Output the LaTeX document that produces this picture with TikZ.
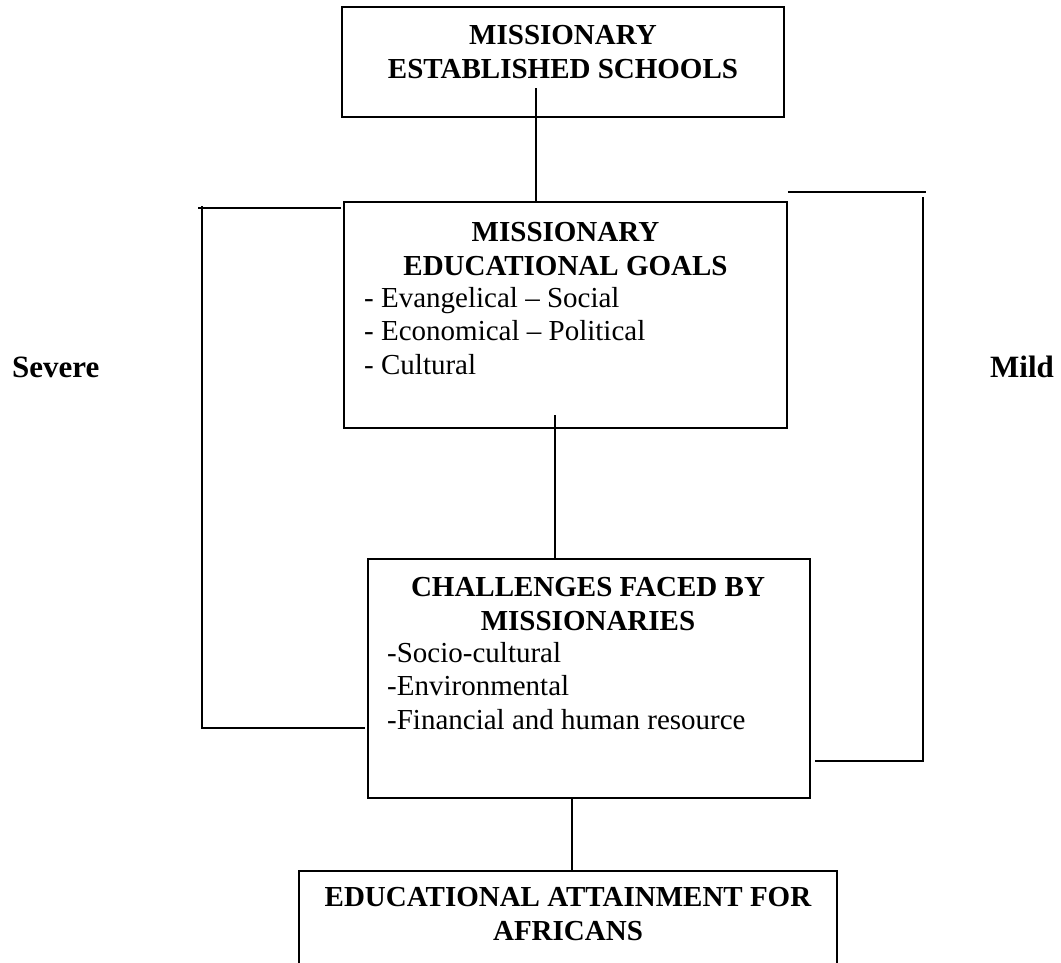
\documentclass[tikz,border=0pt]{standalone}
\usepackage{fontspec}
\setmainfont{Liberation Serif}
\usepackage{tikz}
\usetikzlibrary{positioning, calc}
\newcommand{\diagfont}{\fontsize{29}{33.6}\selectfont}

\begin{document}
\begin{tikzpicture}[x=1pt, y=-1pt,
    box/.style={draw=black, line width=1.8pt, inner sep=0pt},
    head/.style={font=\diagfont\bfseries, align=center, inner sep=0pt, anchor=north},
    items/.style={font=\diagfont, align=left, inner sep=0pt, anchor=north west},
    side/.style={font=\fontsize{31}{36}\selectfont\bfseries, inner sep=0pt, anchor=base west},
    link/.style={line width=1.8pt}]
    \useasboundingbox (0,0) rectangle (1061,962);
    % boxes
    \node[box, minimum width=442pt, minimum height=110pt] (est)    at (563, 62)    {};
    \node[box, minimum width=443pt, minimum height=226pt] (goals)  at (565.5, 315) {};
    \node[box, minimum width=442pt, minimum height=239pt] (chal)   at (589, 678.5) {};
    \node[box, minimum width=538pt, minimum height=140pt] (attain) at (568, 941)   {};
    % box texts
    \node[head] (estT)    at (563, 25)   {MISSIONARY\\ESTABLISHED SCHOOLS};
    \node[head] (goalsT)  at (565.5, 222) {MISSIONARY\\EDUCATIONAL GOALS};
    \node[items] (goalsL) at (364, 287)  {- Evangelical -- Social\\- Economical -- Political\\- Cultural};
    \node[head] (chalT)   at (588, 577)  {CHALLENGES FACED BY\\MISSIONARIES};
    \node[items] (chalL)  at (387, 642)  {-Socio-cultural\\-Environmental\\-Financial and human resource};
    \node[head] (attainT) at (568, 887)  {EDUCATIONAL ATTAINMENT FOR\\AFRICANS};
    % side labels
    \node[side] (severe) at (12, 377)  {Severe};
    \node[side] (mild)   at (990, 377) {Mild};
    % connectors
    \coordinate (t1) at (536, 88);
    \coordinate (g1) at (555, 415);
    \coordinate (c1) at (572, 798);
    \path[link] (t1) edge (t1 |- goals.north);
    \path[link] (g1) edge (g1 |- chal.north);
    \path[link] (c1) edge (c1 |- attain.north);
    % left bracket
    \coordinate (sevTop) at (202, 208);
    \coordinate (sevBot) at (202, 728);
    \draw[link] ($(sevTop)+(-4,0)$) -- ($(goals.west |- sevTop)+(-2,0)$);
    \draw[link] ($(sevTop)+(0,-2)$) -- (sevBot) -- ($(sevBot -| chal.west)+(-2,0)$);
    % right bracket
    \coordinate (mildTop) at (926, 192);
    \coordinate (mildBot) at (923, 761);
    \draw[link] (goals.east |- mildTop) -- (mildTop);
    \draw[link] (923, 197) -- (mildBot) -- ($(chal.east |- mildBot)+(4,0)$);
\end{tikzpicture}
\end{document}
